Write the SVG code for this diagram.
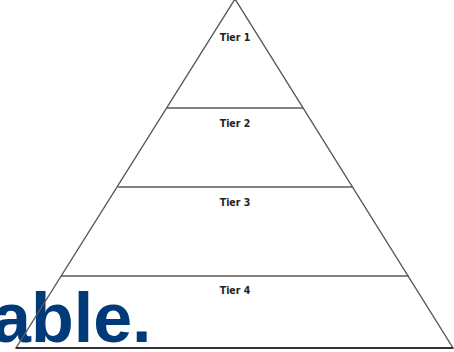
<svg xmlns="http://www.w3.org/2000/svg" width="454" height="352" viewBox="0 0 454 352">
<style>
.edge{stroke:#5a5a5a;stroke-width:1.4;fill:none}
.tier{font-family:"DejaVu Sans Condensed","DejaVu Sans",sans-serif;font-weight:bold;font-size:10.5px;fill:#222;text-anchor:middle}
</style>
<rect width="454" height="352" fill="#fff"/>
<text x="-8" y="342" font-family="Liberation Sans, Arial, sans-serif" font-weight="bold" font-size="70" fill="#003a78">able.</text>
<g id="pyramid">
<polygon class="edge" points="235,-1 16,348 453,348"/>
<line x1="16" y1="348" x2="453" y2="348" stroke="#333" stroke-width="2"/>
</g>
<g id="connectors">
<line class="edge" x1="167" y1="108" x2="303" y2="108"/>
<line class="edge" x1="118" y1="187" x2="353" y2="187"/>
<line class="edge" x1="61" y1="276" x2="409" y2="276"/>
</g>
<g id="tier1"><text class="tier" x="235" y="41">Tier 1</text></g>
<g id="tier2"><text class="tier" x="235" y="127">Tier 2</text></g>
<g id="tier3"><text class="tier" x="235" y="206">Tier 3</text></g>
<g id="tier4"><text class="tier" x="235" y="294">Tier 4</text></g>
</svg>
